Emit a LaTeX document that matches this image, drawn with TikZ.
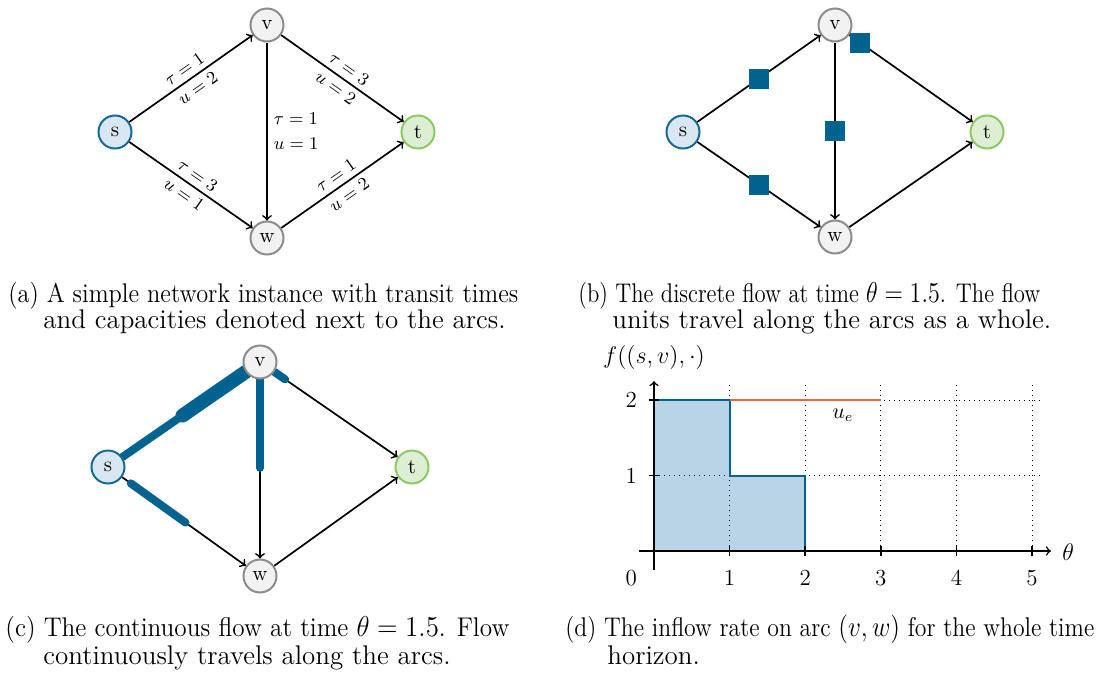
\documentclass[tikz,border=0pt]{standalone}
\usepackage{graphicx}
\usetikzlibrary{calc,backgrounds}
\definecolor{sfill}{RGB}{217,231,242}
\definecolor{sdraw}{RGB}{24,104,148}
\definecolor{gfill}{RGB}{242,242,242}
\definecolor{gdraw}{RGB}{140,140,140}
\definecolor{tfill}{RGB}{222,238,210}
\definecolor{tdraw}{RGB}{140,200,100}
\definecolor{flowblue}{RGB}{0,98,143}
\definecolor{capred}{RGB}{240,100,60}
\definecolor{areablue}{RGB}{185,212,230}
\newsavebox\capbox
\newcommand\capline[2]{\sbox\capbox{#2}\ifdim\wd\capbox>#1\relax\resizebox{#1}{\height}{\usebox\capbox}\else\makebox[#1][s]{#2}\fi}
\tikzset{
 vert/.style={circle, minimum size=16.5pt, inner sep=0pt, line width=1pt, font=\fontsize{10.5}{12}\selectfont},
 srcnode/.style={vert, draw=sdraw, fill=sfill},
 midnode/.style={vert, draw=gdraw, fill=gfill},
 snknode/.style={vert, draw=tdraw, fill=tfill},
 arcline/.style={->, line width=0.85pt},
 lab/.style={font=\fontsize{9.5}{12.5}\selectfont, inner sep=2.5pt},
 flowunit/.style={fill=flowblue, minimum size=10pt, inner sep=0pt},
 flowthin/.style={draw=flowblue, line width=4pt, line cap=round},
 flowthick/.style={draw=flowblue, line width=7pt, line cap=round},
 captext/.style={anchor=base west, inner sep=0pt, font=\fontsize{13.5}{16}\selectfont},
 gridline/.style={dotted, line width=0.5pt},
 axisline/.style={->, line width=0.75pt},
 ticklab/.style={font=\fontsize{11.5}{14}\selectfont, inner sep=0pt},
}
\begin{document}
\begin{tikzpicture}[x=0.5pt, y=-0.5pt]
\useasboundingbox (0,0) rectangle (1099,675);

% ---------- (a) ----------
\node[srcnode] (as) at (115,132) {s};
\node[midnode] (av) at (267,25) {v};
\node[midnode] (aw) at (267,238) {w};
\node[snknode] (at) at (418,132) {t};
\draw[arcline] (as) -- node[lab,sloped,above]{$\tau = 1$} node[lab,sloped,below]{$u = 2$} (av);
\draw[arcline] (av) -- node[lab,sloped,above]{$\tau = 3$} node[lab,sloped,below]{$u = 2$} (at);
\draw[arcline] (as) -- node[lab,sloped,above]{$\tau = 3$} node[lab,sloped,below]{$u = 1$} (aw);
\draw[arcline] (aw) -- node[lab,sloped,above]{$\tau = 1$} node[lab,sloped,below]{$u = 2$} (at);
\draw[arcline] (av) -- node[lab,right,align=left,inner sep=3pt]{$\tau = 1$\\$u = 1$} (aw);

% ---------- (b) ----------
\node[srcnode] (bs) at (683,132) {s};
\node[midnode] (bv) at (835,25) {v};
\node[midnode] (bw) at (835,237) {w};
\node[snknode] (bt) at (987,132) {t};
\draw[arcline] (bs) -- (bv);
\draw[arcline] (bv) -- (bt);
\draw[arcline] (bs) -- (bw);
\draw[arcline] (bw) -- (bt);
\draw[arcline] (bv) -- (bw);
\node[flowunit] (b1) at ($(bs)!0.5!(bv)$) {};
\node[flowunit] (b2) at ($(bv)!0.165!(bt)$) {};
\node[flowunit] (b3) at ($(bv)!0.5!(bw)$) {};
\node[flowunit] (b4) at ($(bs)!0.5!(bw)$) {};

% ---------- (c) ----------
\node[srcnode] (cs) at (108,467) {s};
\node[midnode] (cv) at (260,362) {v};
\node[midnode] (cw) at (260,576) {w};
\node[snknode] (ct) at (412,467) {t};
\begin{pgfonlayer}{background}
\draw[arcline] (cs) -- (cv);
\draw[arcline] (cv) -- (ct);
\draw[arcline] (cs) -- (cw);
\draw[arcline] (cw) -- (ct);
\draw[arcline] (cv) -- (cw);
\coordinate (csplit) at ($(cs)!0.49!(cv)$);
\draw[flowthin] (cs) -- (csplit);
\draw[flowthick] (csplit) -- (cv);
\coordinate (cvt) at ($(cv)!0.165!(ct)$);
\draw[flowthin] (cv) -- (cvt);
\coordinate (cvw) at ($(cv)!0.495!(cw)$);
\draw[flowthin] (cv) -- (cvw);
\coordinate (csw1) at ($(cs)!0.15!(cw)$);
\coordinate (csw2) at ($(cs)!0.51!(cw)$);
\draw[flowthin] (csw1) -- (csw2);
\end{pgfonlayer}

% ---------- (d) ----------
\begin{scope}[shift={(654,551)}, x=37.8pt, y=37.75pt]
\fill[areablue] (0,0) -- (0,2) -- (1,2) -- (1,1) -- (2,1) -- (2,0) -- cycle;
\foreach \i in {1,...,5} \draw[gridline] (\i,0) -- (\i,2.2);
\foreach \j in {1,2} \draw[gridline] (0,\j) -- (5.15,\j);
\draw[flowblue, line width=1pt] (0,2) -- (1,2) -- (1,1) -- (2,1) -- (2,0);
\draw[capred, line width=1pt] (1,2) -- (3,2);
\draw[axisline] (-0.2,0) -- (5.25,0);
\draw[axisline] (0,-0.25) -- (0,2.25);
\foreach \i in {1,...,5} {
  \draw[line width=0.75pt] (\i,-0.07) -- (\i,0.07);
  \node[ticklab] at (\i,-0.36) {\i};
}
\foreach \j in {1,2} {
  \draw[line width=0.75pt] (-0.07,\j) -- (0.07,\j);
  \node[ticklab] at (-0.3,\j) {\j};
}
\node[ticklab] at (-0.3,-0.36) {0};
\node[font=\fontsize{12.5}{14}\selectfont, inner sep=0pt] at (5.48,-0.02) {$\theta$};
\node[font=\fontsize{12.5}{14}\selectfont, inner sep=0pt] at (0,2.56) {$f((s,v),\cdot)$};
\node[font=\fontsize{10.5}{12}\selectfont, inner sep=0pt] at (2.5,1.8) {$u_e$};
\end{scope}

% ---------- captions ----------
\node[captext] (capa1) at (8,302) {\capline{255pt}{(a) A simple network instance with transit times}};
\node[captext] (capa2) at (43,328) {and capacities denoted next to the arcs.};
\node[captext] (capb1) at (578,302) {\capline{231pt}{(b) The discrete flow at time $\theta = 1.5$. The flow}};
\node[captext] (capb2) at (612,328) {units travel along the arcs as a whole.};
\node[captext] (capc1) at (5,636) {\capline{252pt}{(c) The continuous flow at time $\theta = 1.5$. Flow}};
\node[captext] (capc2) at (43,664) {continuously travels along the arcs.};
\node[captext] (capd1) at (565,636) {\capline{264.5pt}{(d) The inflow rate on arc $(v, w)$ for the whole time}};
\node[captext] (capd2) at (607,664) {horizon.};
\end{tikzpicture}
\end{document}
